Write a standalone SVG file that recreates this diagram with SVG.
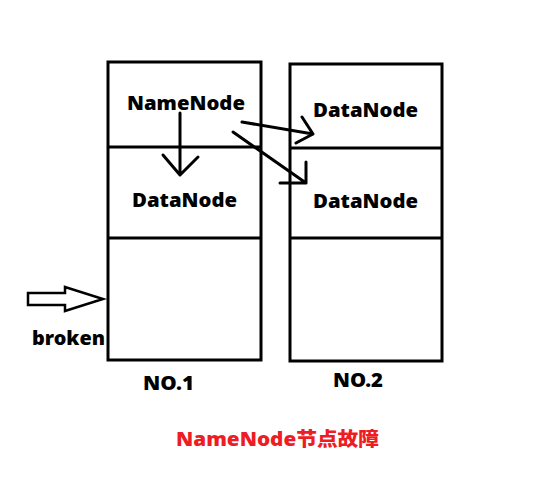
<svg xmlns="http://www.w3.org/2000/svg" width="548" height="478" viewBox="0 0 548 478">
<style>
.box{fill:none;stroke:#000;stroke-width:3}
.div{stroke:#000;stroke-width:3}
.t{font-family:"Noto Sans","Noto Sans CJK SC",sans-serif;font-weight:900;font-size:19px;fill:#000}
.red{fill:#ee1c24}
.arr{fill:none;stroke:#000;stroke-width:3;stroke-linecap:round;stroke-linejoin:round}
</style>
<rect width="548" height="478" fill="#fff"/>
<g id="no1">
<rect class="box" x="108" y="62" width="153" height="298"/>
<line class="div" x1="108" y1="147" x2="261" y2="147"/>
<line class="div" x1="108" y1="238" x2="261" y2="238"/>
<text class="t" x="127" y="110" textLength="118" lengthAdjust="spacingAndGlyphs">NameNode</text>
<text class="t" x="132" y="207" textLength="105" lengthAdjust="spacingAndGlyphs">DataNode</text>
<text class="t" x="143" y="390" textLength="51" lengthAdjust="spacingAndGlyphs">NO.1</text>
</g>
<g id="no2">
<rect class="box" x="290" y="64" width="152" height="297"/>
<line class="div" x1="290" y1="148" x2="442" y2="148"/>
<line class="div" x1="290" y1="238" x2="442" y2="238"/>
<text class="t" x="313" y="117" textLength="105" lengthAdjust="spacingAndGlyphs">DataNode</text>
<text class="t" x="313" y="208" textLength="105" lengthAdjust="spacingAndGlyphs">DataNode</text>
<text class="t" x="333" y="387" textLength="50" lengthAdjust="spacingAndGlyphs">NO.2</text>
</g>
<g id="broken">
<polygon points="28,293 65,293 65,287 103,299 65,311 65,305 28,305" fill="#fff" stroke="#000" stroke-width="2.5"/>
<text class="t" x="32" y="345" textLength="73" lengthAdjust="spacingAndGlyphs">broken</text>
</g>
<g id="title">
<text class="t red" x="176" y="446" textLength="203" lengthAdjust="spacingAndGlyphs">NameNode节点故障</text>
</g>
<g id="connectors">
<path class="arr" d="M180,113 L180,175 M163,155 L180,175 L198,157"/>
<path class="arr" d="M242,122 L313,134 M302,117 L313,134 L296,143"/>
<path class="arr" d="M233,132 L306,183 M306,162 L306,183 L280,183"/>
</g>
</svg>
